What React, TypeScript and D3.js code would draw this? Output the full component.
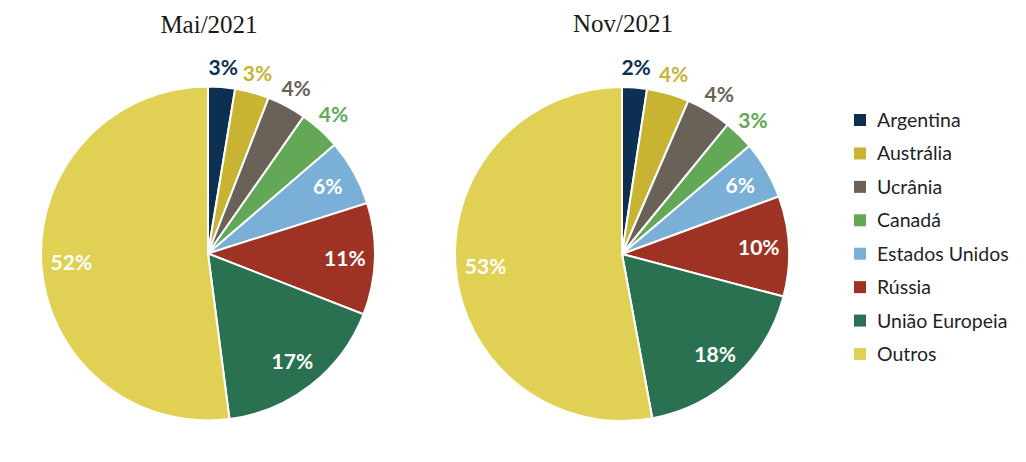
import * as d3 from 'd3'

const countries = ['Argentina', 'Austrália', 'Ucrânia', 'Canadá', 'Estados Unidos', 'Rússia', 'União Europeia', 'Outros']
const colors = ['#0c2f52', '#c8b332', '#6a6258', '#62a856', '#7aafd7', '#9d3225', '#2a7152', '#e0d155']

// shares (%)
const mai2021 = [2.6, 3.3, 3.8, 4.0, 6.4, 10.8, 17.0, 52.0]
const nov2021 = [2.4, 4.1, 4.4, 2.9, 5.6, 9.7, 18.0, 52.9]

const outsideCount = 4
const R = 167

const Pie = ({ cx, cy, ty, title, values }) => {
    const pie = d3.pie<number>().sort(null).value(d => d)
    const arcs = pie(values)
    const arc = d3.arc<d3.PieArcDatum<number>>().innerRadius(0).outerRadius(R)
    const inner = d3.arc<d3.PieArcDatum<number>>().innerRadius(R * 0.82).outerRadius(R * 0.82)
    const outer = d3.arc<d3.PieArcDatum<number>>().innerRadius(R * 1.12).outerRadius(R * 1.12)
    return (
        <g>
            <text x={cx + 1} y={ty} textAnchor="middle" fontFamily="'Liberation Serif', serif" fontSize={25} fill="#1a1a1a">
                {title}
            </text>
            <g transform={`translate(${cx},${cy})`}>
                {arcs.map((a, i) => (
                    <path key={i} d={arc(a)} fill={colors[i]} stroke="#fff" strokeWidth={2} />
                ))}
                {arcs.map((a, i) => {
                    const out = i < outsideCount
                    const [x, y] = (out ? outer : inner).centroid(a)
                    return (
                        <text key={'t' + i} x={x} y={y} dy="0.36em" textAnchor="middle"
                            fontFamily="Lato, sans-serif" fontWeight="bold" fontSize={21}
                            fill={out ? colors[i] : '#fff'}>
                            {Math.round(a.data)}%
                        </text>
                    )
                })}
            </g>
        </g>
    )
}

export default function App() {
    const legendY = d3.scalePoint<string>().domain(countries).range([120, 354])
    return (
        <svg width={1026} height={462} style={{ position: 'absolute', left: 0, top: 0, display: 'block' }}>
            <Pie cx={208} cy={253.5} ty={33} title="Mai/2021" values={mai2021} />
            <Pie cx={622} cy={254} ty={32} title="Nov/2021" values={nov2021} />
            <g>
                {countries.map((c, i) => (
                    <g key={c} transform={`translate(854,${legendY(c)})`}>
                        <rect x={0} y={-6} width={12} height={12} fill={colors[i]} />
                        <text x={23} y={0} dy="0.36em" fontFamily="Lato, sans-serif" fontSize={19.5} fill="#1f1f2a">
                            {c}
                        </text>
                    </g>
                ))}
            </g>
        </svg>
    )
}
